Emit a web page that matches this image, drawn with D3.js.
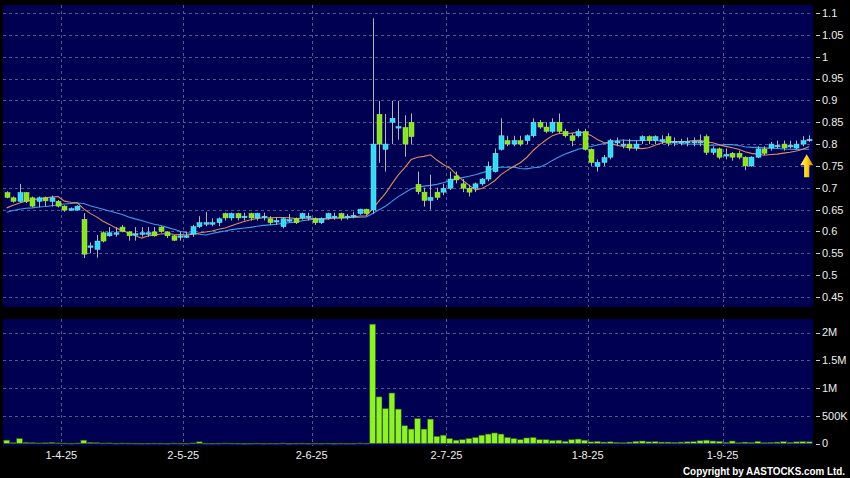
<!DOCTYPE html>
<html><head><meta charset="utf-8">
<script src="https://cdn.jsdelivr.net/npm/d3@7"></script>
<style>html,body{margin:0;padding:0;background:#000;}svg{display:block;}</style>
</head><body>
<svg id="chart" width="850" height="478"></svg>
<script>
// ---------- DATA ----------
const dates = [
"19-3-25","20-3-25","21-3-25","24-3-25","25-3-25","26-3-25","27-3-25","28-3-25","31-3-25",
"1-4-25","2-4-25","3-4-25","7-4-25","8-4-25","9-4-25","10-4-25","11-4-25","14-4-25","15-4-25","16-4-25","17-4-25","22-4-25","23-4-25","24-4-25","25-4-25","28-4-25","29-4-25","30-4-25",
"2-5-25","6-5-25","7-5-25","8-5-25","9-5-25","12-5-25","13-5-25","14-5-25","15-5-25","16-5-25","19-5-25","20-5-25","21-5-25","22-5-25","23-5-25","26-5-25","27-5-25","28-5-25","29-5-25","30-5-25",
"2-6-25","3-6-25","4-6-25","5-6-25","6-6-25","9-6-25","10-6-25","11-6-25","12-6-25","13-6-25","16-6-25","17-6-25","18-6-25","19-6-25","20-6-25","23-6-25","24-6-25","25-6-25","26-6-25","27-6-25","30-6-25",
"2-7-25","3-7-25","4-7-25","7-7-25","8-7-25","9-7-25","10-7-25","11-7-25","14-7-25","15-7-25","16-7-25","17-7-25","18-7-25","21-7-25","22-7-25","23-7-25","24-7-25","25-7-25","28-7-25","29-7-25","30-7-25","31-7-25",
"1-8-25","4-8-25","5-8-25","6-8-25","7-8-25","8-8-25","11-8-25","12-8-25","13-8-25","14-8-25","15-8-25","18-8-25","19-8-25","20-8-25","21-8-25","22-8-25","25-8-25","26-8-25","27-8-25","28-8-25","29-8-25",
"1-9-25","2-9-25","3-9-25","4-9-25","5-9-25","8-9-25","9-9-25","10-9-25","11-9-25","12-9-25","15-9-25","16-9-25","17-9-25","18-9-25"
];
const openP = [
.689,.677,.669,.689,.677,.669,.677,.669,.669,.658,
.650,.649,.628,.565,.559,.597,.590,.596,.610,.599,
.593,.596,.596,.599,.610,.599,.590,.589,.589,.594,
.611,.618,.619,.620,.641,.631,.641,.634,.641,.631,
.634,.629,.624,.611,.626,.629,.631,.634,.629,.620,
.631,.634,.641,.634,.636,.641,.651,.649,.868,.788,
.850,.838,.838,.850,.708,.690,.671,.690,.690,.699,
.727,.709,.699,.699,.709,.720,.737,.788,.808,.800,
.808,.808,.819,.850,.839,.829,.850,.829,.819,.819,
.829,.788,.749,.758,.770,.805,.800,.800,.791,.808,
.817,.808,.810,.817,.805,.803,.806,.806,.806,.817,
.781,.789,.775,.779,.779,.770,.750,.770,.789,.791,
.796,.800,.796,.791,.800,.810];
const highP = [
.692,.680,.709,.690,.680,.680,.680,.682,.672,.660,
.655,.660,.642,.575,.592,.600,.610,.610,.615,.600,
.610,.610,.610,.610,.612,.600,.592,.600,.600,.615,
.635,.645,.630,.632,.643,.643,.643,.643,.643,.643,
.643,.635,.632,.632,.640,.632,.643,.643,.632,.632,
.643,.643,.643,.640,.645,.652,.652,1.088,.899,.869,
.899,.899,.866,.870,.737,.700,.730,.700,.709,.737,
.737,.720,.707,.712,.722,.760,.790,.859,.819,.819,
.819,.822,.859,.855,.850,.859,.870,.835,.825,.835,
.835,.790,.765,.775,.812,.815,.810,.812,.808,.820,
.820,.820,.820,.825,.815,.812,.815,.815,.822,.822,
.795,.792,.790,.782,.785,.772,.772,.795,.795,.805,
.808,.808,.808,.808,.818,.820];
const lowP = [
.676,.666,.666,.665,.655,.655,.657,.657,.655,.645,
.648,.648,.539,.550,.540,.575,.588,.588,.598,.579,
.579,.588,.588,.588,.597,.585,.578,.579,.585,.588,
.608,.612,.612,.612,.625,.625,.625,.625,.625,.625,
.625,.615,.615,.607,.620,.617,.627,.625,.615,.617,
.627,.627,.625,.627,.630,.638,.638,.640,.757,.737,
.800,.810,.771,.800,.685,.657,.650,.672,.683,.695,
.710,.690,.680,.690,.705,.715,.735,.785,.795,.795,
.795,.800,.815,.835,.825,.825,.825,.815,.795,.815,
.785,.750,.737,.750,.765,.795,.790,.785,.785,.800,
.800,.800,.800,.795,.795,.797,.795,.795,.795,.775,
.775,.765,.765,.762,.765,.740,.748,.768,.775,.785,
.790,.785,.790,.788,.795,.805];
const closeP = [
.678,.669,.689,.669,.658,.677,.670,.677,.658,.649,
.652,.658,.548,.567,.578,.578,.597,.597,.600,.590,
.595,.597,.597,.590,.600,.590,.580,.590,.590,.611,
.620,.620,.620,.629,.631,.641,.631,.635,.631,.641,
.635,.620,.625,.629,.627,.620,.641,.635,.620,.629,
.641,.635,.631,.635,.637,.651,.641,.800,.800,.800,
.859,.840,.800,.817,.691,.671,.678,.678,.699,.720,
.718,.699,.690,.709,.720,.749,.779,.819,.800,.808,
.800,.819,.850,.839,.829,.850,.829,.819,.808,.829,
.788,.758,.758,.769,.808,.806,.800,.791,.800,.817,
.808,.817,.810,.802,.806,.806,.806,.806,.806,.781,
.789,.770,.776,.770,.770,.750,.770,.789,.779,.800,
.797,.791,.797,.800,.808,.811];
const volume = [
60000,15000,90000,20000,15000,10000,12000,20000,10000,8000,
5000,8000,60000,20000,15000,8000,10000,5000,8000,6000,
5000,4000,5000,6000,5000,4000,8000,5000,4000,10000,
30000,5000,4000,5000,8000,6000,5000,3000,4000,6000,
4000,5000,4000,8000,3000,5000,6000,4000,5000,4000,
6000,3000,5000,4000,4000,8000,6000,2150000,840000,630000,
910000,620000,320000,260000,450000,260000,440000,130000,150000,90000,
60000,70000,90000,110000,150000,170000,190000,170000,110000,90000,
70000,100000,110000,70000,70000,55000,60000,40000,70000,80000,
60000,30000,40000,25000,30000,20000,15000,25000,40000,45000,
30000,35000,25000,25000,20000,25000,30000,35000,50000,60000,
45000,40000,20000,45000,15000,25000,20000,40000,15000,20000,
25000,35000,20000,30000,35000,30000];
// moving-average values for the days before a full window exists
const ma10Lead = [.654,.660,.665,.669,.672,.675,.677,.679,.680];
const ma20Lead = [.644,.648,.651,.653,.654,.656,.657,.659,.661,.663,.664,.665,.664,.659,.655,.651,.647,.643,.639];
const priceTicks = [0.45,0.5,0.55,0.6,0.65,0.7,0.75,0.8,0.85,0.9,0.95,1,1.05,1.1];
const volTicks = [0,500000,1000000,1500000,2000000];
const volTickLabels = ["0","500K","1M","1.5M","2M"];
const dateTicks = ["1-4-25","2-5-25","2-6-25","2-7-25","1-8-25","1-9-25"];

// ---------- CHART ----------
const svg = d3.select("#chart");
const FONT = "'Liberation Sans', Arial, sans-serif";
const plotL = 3, plotR = 813;
const priceTop = 5, priceBot = 307;
const volTop = 319, volBot = 446;
const NAVY = "#000052", GRID = "#56568e";
const UP = "#35d9f4", DOWN = "#8ce325", WICK = "#b4b4b4";

const x = d3.scaleBand().domain(dates).range([3.5, 3.5 + dates.length * 6.42]).padding(0);
const bw = x.bandwidth();
const cx = d => x(d) + bw / 2;
const y = d3.scaleLinear().domain([0.45, 1.1]).range([297, 13]);
const yv = d3.scaleLinear().domain([0, 2000000]).range([443.5, 332.5]);

svg.append("rect").attr("width", 850).attr("height", 478).attr("fill", "#000");
svg.append("rect").attr("x", plotL).attr("y", priceTop).attr("width", plotR - plotL).attr("height", priceBot - priceTop).attr("fill", NAVY);
svg.append("rect").attr("x", plotL).attr("y", volTop).attr("width", plotR - plotL).attr("height", volBot - volTop).attr("fill", NAVY);

// grid lines
const g = svg.append("g").attr("stroke", GRID).attr("stroke-width", 1).attr("stroke-dasharray", "3,3");
priceTicks.forEach(t => {
  const yy = Math.round(y(t)) + 0.5;
  g.append("line").attr("x1", plotL).attr("x2", plotR).attr("y1", yy).attr("y2", yy);
});
volTicks.slice(1).forEach(t => {
  const yy = Math.round(yv(t)) + 0.5;
  g.append("line").attr("x1", plotL).attr("x2", plotR).attr("y1", yy).attr("y2", yy);
});
dateTicks.forEach(d => {
  const xx = Math.round(x(d)) + 0.5;
  g.append("line").attr("x1", xx).attr("x2", xx).attr("y1", priceTop).attr("y2", priceBot);
  g.append("line").attr("x1", xx).attr("x2", xx).attr("y1", volTop).attr("y2", volBot);
});

// moving averages
const ma = (n, lead) => closeP.map((c, i) => i < n - 1 ? lead[i] : d3.mean(closeP.slice(i - n + 1, i + 1)));
const ma10 = ma(10, ma10Lead), ma20 = ma(20, ma20Lead);
const line = d3.line().x((v, i) => cx(dates[i])).y(v => y(v));
svg.append("path").attr("d", line(ma20)).attr("fill", "none").attr("stroke", "#3c9be6").attr("stroke-width", 1.1);
svg.append("path").attr("d", line(ma10)).attr("fill", "none").attr("stroke", "#e08a5c").attr("stroke-width", 1.1);

// candles
const cg = svg.append("g");
dates.forEach((d, i) => {
  const xc = Math.round(cx(d)) + 0.5;
  cg.append("line").attr("x1", xc).attr("x2", xc).attr("y1", y(highP[i])).attr("y2", y(lowP[i]))
    .attr("stroke", WICK).attr("stroke-width", 1);
});
dates.forEach((d, i) => {
  const up = closeP[i] >= openP[i];
  const top = y(Math.max(openP[i], closeP[i])), bot = y(Math.min(openP[i], closeP[i]));
  const h = Math.max(bot - top, 1.5);
  cg.append("rect").attr("x", Math.round(cx(d)) - 2).attr("y", top).attr("width", 5).attr("height", h)
    .attr("fill", up ? UP : DOWN).attr("stroke", up ? "#7fe9fb" : "#a9f04e").attr("stroke-width", 0.5);
});

// volume bars
svg.append("g").selectAll("rect").data(dates).join("rect")
  .attr("x", d => x(d) + 0.3).attr("width", bw - 0.6)
  .attr("y", (d, i) => yv(volume[i])).attr("height", (d, i) => Math.max(yv(0) - yv(volume[i]), 0.8))
  .attr("fill", "#8ef22a").attr("stroke", "#2f5c0c").attr("stroke-width", 0.6);

// arrow marker at latest bar
const defs = svg.append("defs");
const gr = defs.append("linearGradient").attr("id", "arw").attr("x1", "0").attr("x2", "1").attr("y1", "0").attr("y2", "0");
gr.append("stop").attr("offset", "0").attr("stop-color", "#fff38a");
gr.append("stop").attr("offset", "0.5").attr("stop-color", "#ffd21a");
gr.append("stop").attr("offset", "1").attr("stop-color", "#c98a00");
const ax = cx(dates[dates.length - 1]) - 2.5, ay = y(0.777);
svg.append("path").attr("fill", "url(#arw)")
  .attr("d", `M${ax},${ay} L${ax + 6.5},${ay + 11} L${ax + 2.6},${ay + 11} L${ax + 2.6},${ay + 23} L${ax - 2.6},${ay + 23} L${ax - 2.6},${ay + 11} L${ax - 6.5},${ay + 11} Z`);

// right axes
const tg = svg.append("g").attr("font-family", FONT).attr("font-size", 11).attr("fill", "#eeeeee");
const tickLine = (yy) => svg.append("line").attr("x1", 816).attr("x2", 820).attr("y1", Math.round(yy) + 0.5).attr("y2", Math.round(yy) + 0.5).attr("stroke", "#cccccc");
priceTicks.forEach(t => {
  tickLine(y(t));
  tg.append("text").attr("x", 822).attr("y", y(t)).attr("dy", "0.36em").text(String(+t.toFixed(2)));
});
volTicks.forEach((t, i) => {
  tickLine(yv(t));
  tg.append("text").attr("x", 822).attr("y", yv(t)).attr("dy", "0.36em").text(volTickLabels[i]);
});
// date axis
dateTicks.forEach(d => {
  tg.append("text").attr("x", x(d)).attr("y", 459).attr("text-anchor", "middle").text(d);
});
// copyright
svg.append("text").attr("x", 845).attr("y", 475).attr("text-anchor", "end")
  .attr("font-family", FONT).attr("font-size", 10).attr("font-weight", "bold").attr("fill", "#ffffff")
  .attr("textLength", 162).attr("lengthAdjust", "spacingAndGlyphs")
  .text("Copyright by AASTOCKS.com Ltd.");
</script>
</body></html>
